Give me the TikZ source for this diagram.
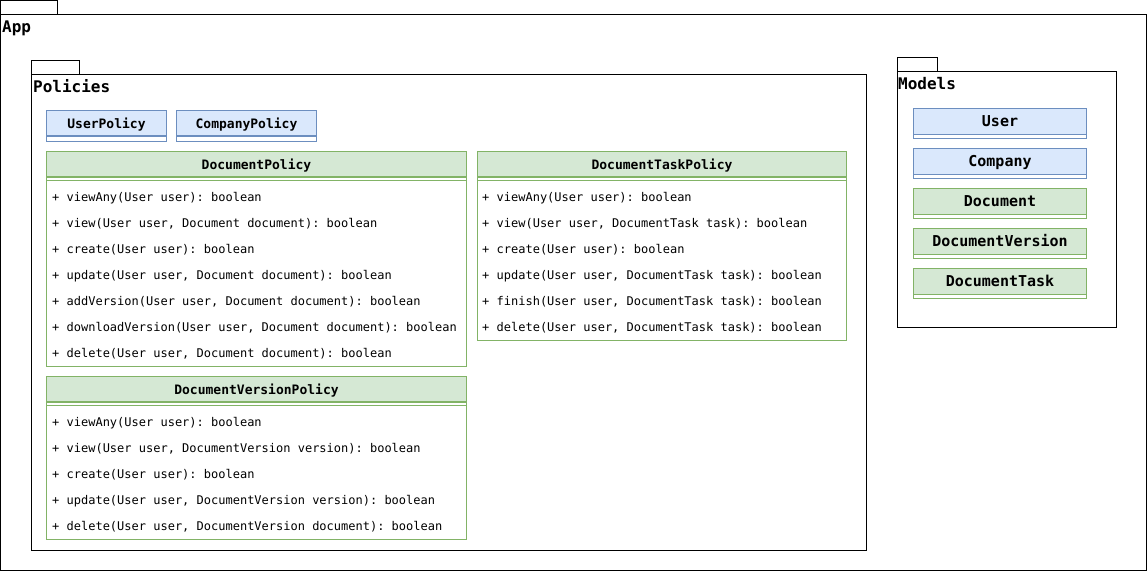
\documentclass[tikz,border=0pt]{standalone}
\usepackage{fontspec}
\newfontfamily\umlfont{DejaVu Sans Mono}
\usetikzlibrary{positioning}
\frenchspacing

\definecolor{bluefill}{HTML}{DAE8FC}
\definecolor{blueline}{HTML}{6C8EBF}
\definecolor{greenfill}{HTML}{D5E8D4}
\definecolor{greenline}{HTML}{82B366}

\tikzset{
  pkg/.style={draw, line width=1pt},
  pkglabel/.style={anchor=base west, inner sep=0pt, font=\umlfont\bfseries\fontsize{16}{18}\selectfont},
  hdr/.style={draw, anchor=north west, inner sep=0pt, line width=1pt, minimum height=25pt,
    text height=1.05em, text depth=0pt},
  bluehdr/.style={hdr, fill=bluefill, draw=blueline, font=\umlfont\bfseries\fontsize{13}{15}\selectfont},
  greenhdr/.style={hdr, fill=greenfill, draw=greenline, font=\umlfont\bfseries\fontsize{13}{15}\selectfont},
  modelhdr/.style={font=\umlfont\bfseries\fontsize{15}{17}\selectfont, minimum width=173pt, minimum height=26pt},
  blueline/.style={draw=blueline, line width=1pt},
  greenline/.style={draw=greenline, line width=1pt},
  op/.style={anchor=base west, inner sep=0pt, font=\umlfont\fontsize{12}{14}\selectfont},
}

\begin{document}
\begin{tikzpicture}[x=1pt,y=-1pt]
  \useasboundingbox (0,0) rectangle (1147,571);

  % App
  \draw[pkg] (0.5,0.5) rectangle (57.5,14.5);
  \draw[pkg] (0.5,14.5) rectangle (1146.5,570.5);
  \node[pkglabel] (app) at (2,32) {App};

  % Policies
  \draw[pkg] (31,60.5) rectangle (79,74.5);
  \draw[pkg] (31,74.5) rectangle (866,550);
  \node[pkglabel] (policies) at (33,92) {Policies};

  \node[bluehdr, minimum width=120pt] (userpolicy) at (46,110) {UserPolicy};
  \draw[blueline] (userpolicy.south west) rectangle ++(120,5);
  \node[bluehdr, minimum width=140pt] (companypolicy) at (176,110) {CompanyPolicy};
  \draw[blueline] (companypolicy.south west) rectangle ++(140,5);

  \node[greenhdr, minimum width=420pt] (docpolicy) at (46,151) {DocumentPolicy};
  \draw[greenline] (docpolicy.south west) rectangle (466,366);
  \draw[greenline] (46,180) -- (466,180);
  \node[op] (dp1) at (52,201) {+ viewAny(User user): boolean};
  \node[op] (dp2) at (52,227) {+ view(User user, Document document): boolean};
  \node[op] (dp3) at (52,253) {+ create(User user): boolean};
  \node[op] (dp4) at (52,279) {+ update(User user, Document document): boolean};
  \node[op] (dp5) at (52,305) {+ addVersion(User user, Document document): boolean};
  \node[op] (dp6) at (52,331) {+ downloadVersion(User user, Document document): boolean};
  \node[op] (dp7) at (52,357) {+ delete(User user, Document document): boolean};

  \node[greenhdr, minimum width=369pt] (taskpolicy) at (477,151) {DocumentTaskPolicy};
  \draw[greenline] (taskpolicy.south west) rectangle (846,340);
  \draw[greenline] (477,180) -- (846,180);
  \node[op] (tp1) at (482,201) {+ viewAny(User user): boolean};
  \node[op] (tp2) at (482,227) {+ view(User user, DocumentTask task): boolean};
  \node[op] (tp3) at (482,253) {+ create(User user): boolean};
  \node[op] (tp4) at (482,279) {+ update(User user, DocumentTask task): boolean};
  \node[op] (tp5) at (482,305) {+ finish(User user, DocumentTask task): boolean};
  \node[op] (tp6) at (482,331) {+ delete(User user, DocumentTask task): boolean};

  \node[greenhdr, minimum width=420pt] (versionpolicy) at (46,376) {DocumentVersionPolicy};
  \draw[greenline] (versionpolicy.south west) rectangle (466,539);
  \draw[greenline] (46,405) -- (466,405);
  \node[op] (vp1) at (52,426) {+ viewAny(User user): boolean};
  \node[op] (vp2) at (52,452) {+ view(User user, DocumentVersion version): boolean};
  \node[op] (vp3) at (52,478) {+ create(User user): boolean};
  \node[op] (vp4) at (52,504) {+ update(User user, DocumentVersion version): boolean};
  \node[op] (vp5) at (52,530) {+ delete(User user, DocumentVersion document): boolean};

  % Models
  \draw[pkg] (897,57.5) rectangle (937,71.5);
  \draw[pkg] (897,71.5) rectangle (1116,327);
  \node[pkglabel] (models) at (898,89) {Models};

  \node[bluehdr, modelhdr] (user) at (913,107.5) {User};
  \draw[blueline] (user.south west) rectangle ++(173,4);
  \node[bluehdr, modelhdr] (company) at (913,147.5) {Company};
  \draw[blueline] (company.south west) rectangle ++(173,4);
  \node[greenhdr, modelhdr] (document) at (913,187.5) {Document};
  \draw[greenline] (document.south west) rectangle ++(173,4);
  \node[greenhdr, modelhdr] (docversion) at (913,227.5) {DocumentVersion};
  \draw[greenline] (docversion.south west) rectangle ++(173,4);
  \node[greenhdr, modelhdr] (doctask) at (913,267.5) {DocumentTask};
  \draw[greenline] (doctask.south west) rectangle ++(173,4);
\end{tikzpicture}
\end{document}
